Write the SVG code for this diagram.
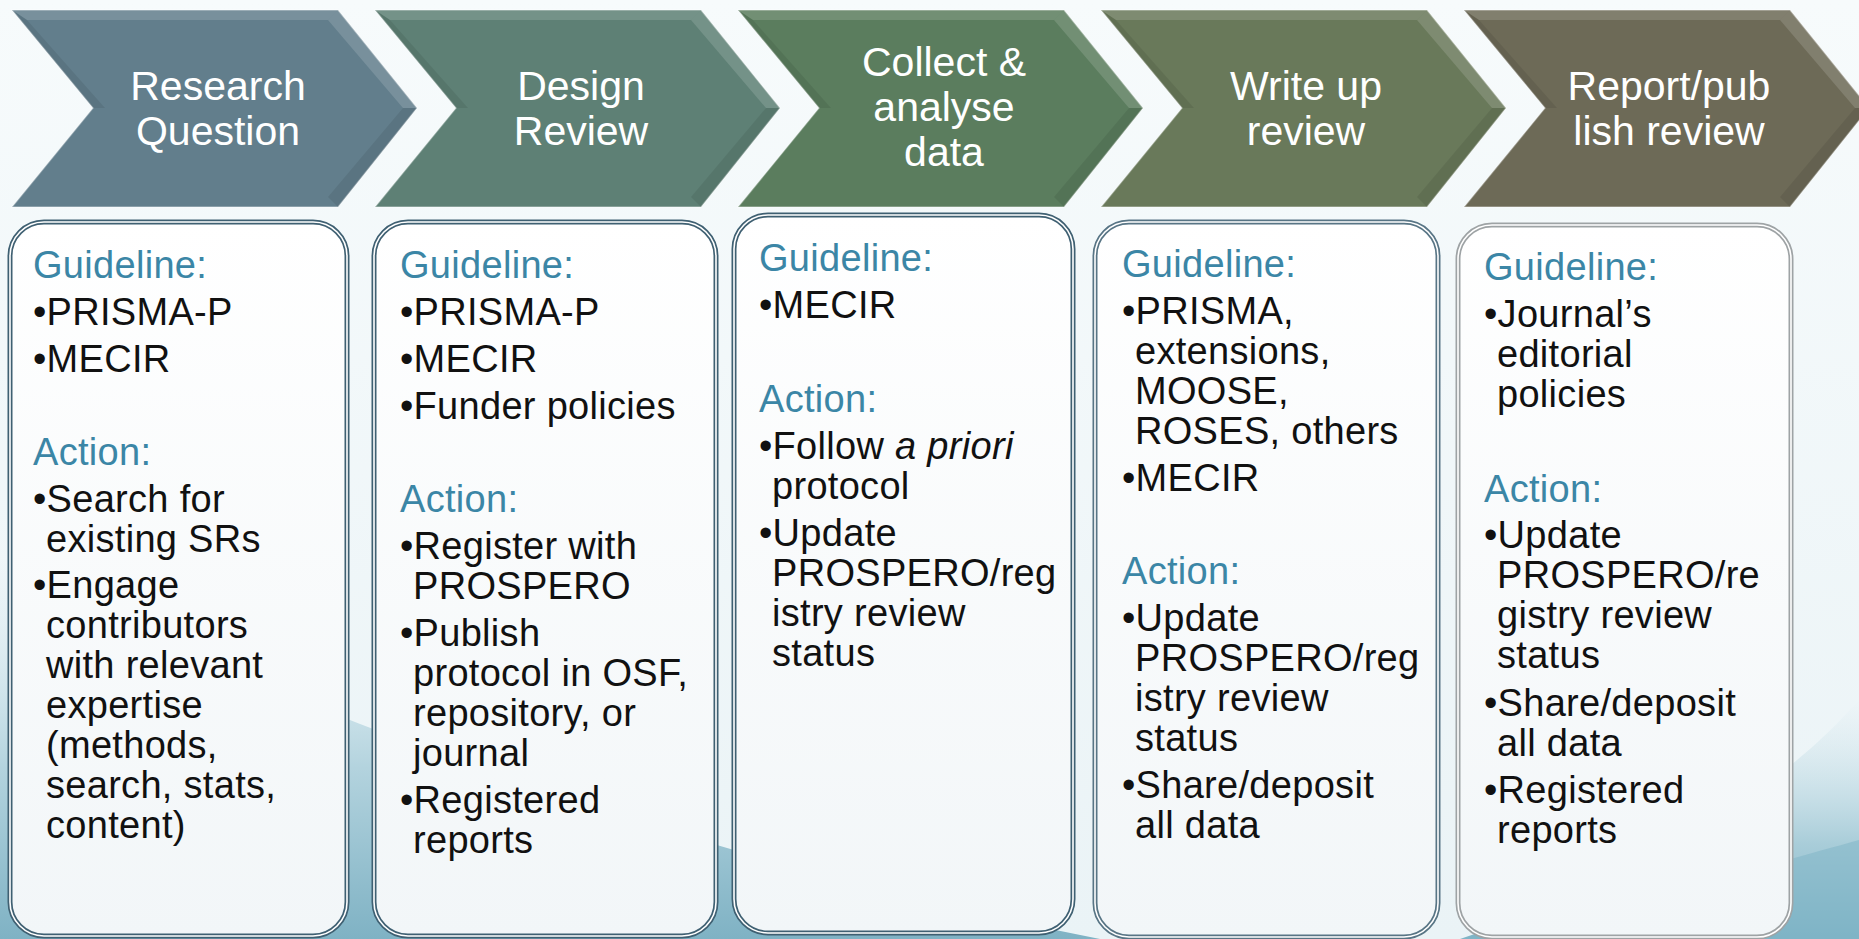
<svg xmlns="http://www.w3.org/2000/svg" width="1859" height="939" viewBox="0 0 1859 939">
<defs>
<linearGradient id="bg" x1="0" y1="0" x2="0" y2="1">
<stop offset="0" stop-color="#f7fbfc"/>
<stop offset="1" stop-color="#eaf3f6"/>
</linearGradient>
<linearGradient id="wave1" x1="0" y1="0" x2="0" y2="1">
<stop offset="0" stop-color="#d4e8ef" stop-opacity="0"/>
<stop offset="0.55" stop-color="#b3d3de"/>
<stop offset="1" stop-color="#7fb2c4"/>
</linearGradient>
<linearGradient id="wave2" x1="0" y1="0" x2="0" y2="1">
<stop offset="0" stop-color="#cfe4ec" stop-opacity="0"/>
<stop offset="0.6" stop-color="#a9cdd9"/>
<stop offset="1" stop-color="#7fb4c6"/>
</linearGradient>
<linearGradient id="boxfill" x1="0" y1="0" x2="0" y2="1">
<stop offset="0" stop-color="#ffffff"/>
<stop offset="1" stop-color="#f2f6f8"/>
</linearGradient>
</defs>
<style>
.chev-edge{stroke:#ffffff;stroke-opacity:0.35;stroke-width:1.5}
.bevel{fill:#ffffff;fill-opacity:0.14}
.shade{fill:#000000;fill-opacity:0.08}
.title{font-family:"Liberation Sans",Arial,sans-serif;font-size:41px;fill:#ffffff;text-anchor:middle}
.box-o{fill:url(#boxfill);stroke-width:5}
.box-i{fill:none;stroke:#ffffff;stroke-width:1.6}
.dark{stroke:#3f6072}
.mid{stroke:#587585}
.grey{stroke:#9ea3a5}
.hd{font-family:"Liberation Sans",Arial,sans-serif;font-size:38px;fill:#3b86a6;letter-spacing:0.3px}
.tx{font-family:"Liberation Sans",Arial,sans-serif;font-size:38px;fill:#111111;letter-spacing:0.3px}
</style>

<rect width="1859" height="939" fill="url(#bg)"/>
<path d="M0,560 C300,720 700,860 1100,939 L0,939 Z" fill="url(#wave1)"/>
<path d="M1859,700 C1780,790 1640,880 1460,939 L1859,939 Z" fill="url(#wave2)"/>
<path d="M1859,840 C1770,865 1620,905 1520,939 L1859,939 Z" fill="#7db3c6" fill-opacity="0.5"/>

<g id="connectors"></g>

<!-- Chevrons -->
<g id="step1">
<polygon points="12,10 338,10 417,108 338,207 12,207 93,108" fill="#627e8c" class="chev-edge"/>
<polygon points="12,10 338,10 328,20 27,20" class="bevel"/>
<polygon points="338,10 417,108 403,108 328,20" class="bevel"/>
<polygon points="12,10 27,20 105,108 93,108" class="shade"/>
<polygon points="338,207 417,108 403,108 328,197" class="shade"/>
<text class="title" x="218" y="100">Research</text>
<text class="title" x="218" y="145">Question</text>
</g>
<g id="step2">
<polygon points="375,10 701,10 780,108 701,207 375,207 456,108" fill="#5e8075" class="chev-edge"/>
<polygon points="375,10 701,10 691,20 390,20" class="bevel"/>
<polygon points="701,10 780,108 766,108 691,20" class="bevel"/>
<polygon points="375,10 390,20 468,108 456,108" class="shade"/>
<polygon points="701,207 780,108 766,108 691,197" class="shade"/>
<text class="title" x="581" y="100">Design</text>
<text class="title" x="581" y="145">Review</text>
</g>
<g id="step3">
<polygon points="738,10 1064,10 1143,108 1064,207 738,207 819,108" fill="#5b7d5e" class="chev-edge"/>
<polygon points="738,10 1064,10 1054,20 753,20" class="bevel"/>
<polygon points="1064,10 1143,108 1129,108 1054,20" class="bevel"/>
<polygon points="738,10 753,20 831,108 819,108" class="shade"/>
<polygon points="1064,207 1143,108 1129,108 1054,197" class="shade"/>
<text class="title" x="944" y="76">Collect &amp;</text>
<text class="title" x="944" y="121">analyse</text>
<text class="title" x="944" y="166">data</text>
</g>
<g id="step4">
<polygon points="1101,10 1427,10 1506,108 1427,207 1101,207 1182,108" fill="#69795a" class="chev-edge"/>
<polygon points="1101,10 1427,10 1417,20 1116,20" class="bevel"/>
<polygon points="1427,10 1506,108 1492,108 1417,20" class="bevel"/>
<polygon points="1101,10 1116,20 1194,108 1182,108" class="shade"/>
<polygon points="1427,207 1506,108 1492,108 1417,197" class="shade"/>
<text class="title" x="1306" y="100">Write up</text>
<text class="title" x="1306" y="145">review</text>
</g>
<g id="step5">
<polygon points="1464,10 1790,10 1869,108 1790,207 1464,207 1545,108" fill="#6d6a57" class="chev-edge"/>
<polygon points="1464,10 1790,10 1780,20 1479,20" class="bevel"/>
<polygon points="1790,10 1869,108 1855,108 1780,20" class="bevel"/>
<polygon points="1464,10 1479,20 1557,108 1545,108" class="shade"/>
<polygon points="1790,207 1869,108 1855,108 1780,197" class="shade"/>
<text class="title" x="1669" y="100">Report/pub</text>
<text class="title" x="1669" y="145">lish review</text>
</g>

<!-- Boxes -->
<g id="box1">
<rect class="box-o dark" x="10" y="222" width="337" height="714" rx="34"/>
<rect class="box-i" x="10" y="222" width="337" height="714" rx="34"/>
<text class="hd" x="33" y="278">Guideline:</text>
<text class="tx" x="33" y="325">•PRISMA-P</text>
<text class="tx" x="33" y="372">•MECIR</text>
<text class="hd" x="33" y="465">Action:</text>
<text class="tx" x="33" y="512">•Search for</text>
<text class="tx" x="46" y="552">existing SRs</text>
<text class="tx" x="33" y="598">•Engage</text>
<text class="tx" x="46" y="638">contributors</text>
<text class="tx" x="46" y="678">with relevant</text>
<text class="tx" x="46" y="718">expertise</text>
<text class="tx" x="46" y="758">(methods,</text>
<text class="tx" x="46" y="798">search, stats,</text>
<text class="tx" x="46" y="838">content)</text>
</g>
<g id="box2">
<rect class="box-o dark" x="374" y="222" width="342" height="714" rx="34"/>
<rect class="box-i" x="374" y="222" width="342" height="714" rx="34"/>
<text class="hd" x="400" y="278">Guideline:</text>
<text class="tx" x="400" y="325">•PRISMA-P</text>
<text class="tx" x="400" y="372">•MECIR</text>
<text class="tx" x="400" y="419">•Funder policies</text>
<text class="hd" x="400" y="512">Action:</text>
<text class="tx" x="400" y="559">•Register with</text>
<text class="tx" x="413" y="599">PROSPERO</text>
<text class="tx" x="400" y="646">•Publish</text>
<text class="tx" x="413" y="686">protocol in OSF,</text>
<text class="tx" x="413" y="726">repository, or</text>
<text class="tx" x="413" y="766">journal</text>
<text class="tx" x="400" y="813">•Registered</text>
<text class="tx" x="413" y="853">reports</text>
</g>
<g id="box3">
<rect class="box-o dark" x="734" y="215" width="339" height="718" rx="34"/>
<rect class="box-i" x="734" y="215" width="339" height="718" rx="34"/>
<text class="hd" x="759" y="271">Guideline:</text>
<text class="tx" x="759" y="318">•MECIR</text>
<text class="hd" x="759" y="412">Action:</text>
<text class="tx" x="759" y="459">•Follow <tspan font-style="italic">a priori</tspan></text>
<text class="tx" x="772" y="499">protocol</text>
<text class="tx" x="759" y="546">•Update</text>
<text class="tx" x="772" y="586">PROSPERO/reg</text>
<text class="tx" x="772" y="626">istry review</text>
<text class="tx" x="772" y="666">status</text>
</g>
<g id="box4">
<rect class="box-o mid" x="1095" y="222" width="343" height="715" rx="34"/>
<rect class="box-i" x="1095" y="222" width="343" height="715" rx="34"/>
<text class="hd" x="1122" y="277">Guideline:</text>
<text class="tx" x="1122" y="324">•PRISMA,</text>
<text class="tx" x="1135" y="364">extensions,</text>
<text class="tx" x="1135" y="404">MOOSE,</text>
<text class="tx" x="1135" y="444">ROSES, others</text>
<text class="tx" x="1122" y="491">•MECIR</text>
<text class="hd" x="1122" y="584">Action:</text>
<text class="tx" x="1122" y="631">•Update</text>
<text class="tx" x="1135" y="671">PROSPERO/reg</text>
<text class="tx" x="1135" y="711">istry review</text>
<text class="tx" x="1135" y="751">status</text>
<text class="tx" x="1122" y="798">•Share/deposit</text>
<text class="tx" x="1135" y="838">all data</text>
</g>
<g id="box5">
<rect class="box-o grey" x="1458" y="225" width="333" height="712" rx="34"/>
<rect class="box-i" x="1458" y="225" width="333" height="712" rx="34"/>
<text class="hd" x="1484" y="280">Guideline:</text>
<text class="tx" x="1484" y="327">•Journal’s</text>
<text class="tx" x="1497" y="367">editorial</text>
<text class="tx" x="1497" y="407">policies</text>
<text class="hd" x="1484" y="502">Action:</text>
<text class="tx" x="1484" y="548">•Update</text>
<text class="tx" x="1497" y="588">PROSPERO/re</text>
<text class="tx" x="1497" y="628">gistry review</text>
<text class="tx" x="1497" y="668">status</text>
<text class="tx" x="1484" y="716">•Share/deposit</text>
<text class="tx" x="1497" y="756">all data</text>
<text class="tx" x="1484" y="803">•Registered</text>
<text class="tx" x="1497" y="843">reports</text>
</g>
</svg>
